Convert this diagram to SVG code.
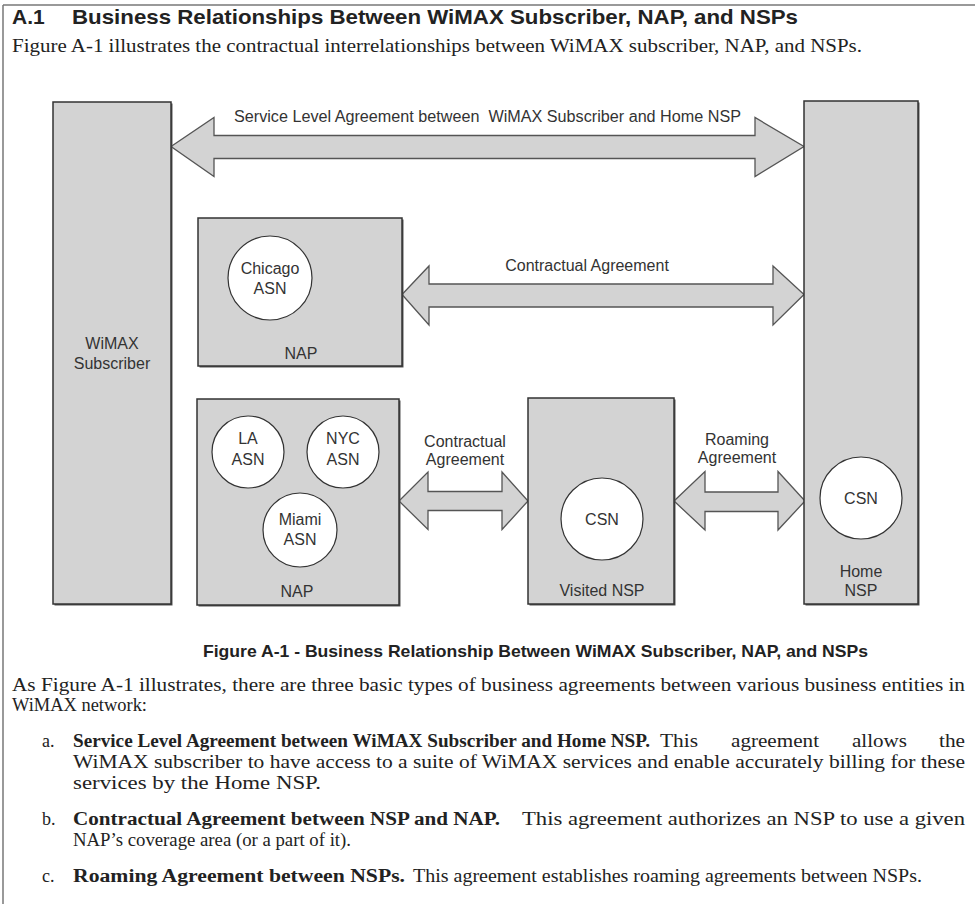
<svg xmlns="http://www.w3.org/2000/svg" width="975" height="904" viewBox="0 0 975 904">
<style>
.box{fill:#d3d3d3;stroke:#333;stroke-width:1.5}
.shadow{fill:#555}
.circ{fill:#fff;stroke:#333;stroke-width:1.2}
.arr{fill:#d3d3d3;stroke:#555;stroke-width:1.3;stroke-linejoin:miter}
.lbl{font-family:"Liberation Sans",Arial,sans-serif;font-size:16px;fill:#333;text-anchor:middle}
.lbls{font-family:"Liberation Sans",Arial,sans-serif;font-size:16px;fill:#333}
.h{font-family:"Liberation Sans",Arial,sans-serif;font-weight:bold;fill:#222}
.body{font-family:"Liberation Serif","Times New Roman",serif;font-size:18px;fill:#222}
.bb{font-family:"Liberation Serif","Times New Roman",serif;font-size:18px;font-weight:bold;fill:#222}
</style>
<rect width="975" height="904" fill="#fff"/>
<g id="page-frame">
<line x1="3" y1="5" x2="975" y2="5" stroke="#777" stroke-width="1.5"/>
<line x1="3" y1="5" x2="3" y2="904" stroke="#777" stroke-width="1.5"/>
</g>
<g id="heading">
<text class="h" x="12" y="24" font-size="21">A.1</text>
<text class="h" x="72" y="24" font-size="21" textLength="726" lengthAdjust="spacingAndGlyphs">Business Relationships Between WiMAX Subscriber, NAP, and NSPs</text>
<text class="body" x="12" y="52" textLength="850" lengthAdjust="spacingAndGlyphs">Figure A-1 illustrates the contractual interrelationships between WiMAX subscriber, NAP, and NSPs.</text>
</g>
<g id="connectors">
<path class="arr" d="M171,146.5 L214,117.5 L214,135.5 L755,135.5 L755,117.5 L804,146.5 L755,176.5 L755,158.5 L214,158.5 L214,176.5 Z"/>
<path class="arr" d="M402,294.5 L429,266 L429,284 L773,284 L773,266 L804,294.5 L773,325 L773,307 L429,307 L429,325 Z"/>
<path class="arr" d="M399,501 L428,472 L428,491.5 L502,491.5 L502,472 L528,501 L502,529.5 L502,510.5 L428,510.5 L428,529.5 Z"/>
<path class="arr" d="M674,501 L705,471.5 L705,492 L778,492 L778,471.5 L805,501 L778,530 L778,511.5 L705,511.5 L705,530 Z"/>
<text class="lbls" x="234" y="122" xml:space="preserve" textLength="507" lengthAdjust="spacingAndGlyphs">Service Level Agreement between  WiMAX Subscriber and Home NSP</text>
<text class="lbl" x="587" y="271">Contractual Agreement</text>
<text class="lbl" x="465" y="447">Contractual</text>
<text class="lbl" x="465" y="465">Agreement</text>
<text class="lbl" x="737" y="445">Roaming</text>
<text class="lbl" x="737" y="463">Agreement</text>
</g>
<g id="wimax-subscriber">
<rect class="shadow" x="54.5" y="103.5" width="118" height="502"/>
<rect class="box" x="53" y="102" width="118" height="502"/>
<text class="lbl" x="112" y="349">WiMAX</text>
<text class="lbl" x="112" y="369">Subscriber</text>
</g>
<g id="home-nsp">
<rect class="shadow" x="805.5" y="102.5" width="114" height="503"/>
<rect class="box" x="804" y="101" width="114" height="503"/>
<text class="lbl" x="861" y="577">Home</text>
<text class="lbl" x="861" y="596">NSP</text>
</g>
<g id="home-csn">
<circle class="circ" cx="861" cy="498" r="41"/>
<text class="lbl" x="861" y="504">CSN</text>
</g>
<g id="nap-chicago">
<rect class="shadow" x="199.5" y="219.5" width="204" height="148"/>
<rect class="box" x="198" y="218" width="204" height="148"/>
<text class="lbl" x="301" y="359">NAP</text>
</g>
<g id="chicago-asn">
<circle class="circ" cx="270" cy="278" r="42"/>
<text class="lbl" x="270" y="274">Chicago</text>
<text class="lbl" x="270" y="294">ASN</text>
</g>
<g id="nap-multi">
<rect class="shadow" x="198.5" y="400.5" width="202" height="206"/>
<rect class="box" x="197" y="399" width="202" height="206"/>
<text class="lbl" x="297" y="597">NAP</text>
</g>
<g id="la-asn">
<circle class="circ" cx="248" cy="452" r="36"/>
<text class="lbl" x="248" y="444">LA</text>
<text class="lbl" x="248" y="465">ASN</text>
</g>
<g id="nyc-asn">
<circle class="circ" cx="343" cy="452" r="36"/>
<text class="lbl" x="343" y="444">NYC</text>
<text class="lbl" x="343" y="465">ASN</text>
</g>
<g id="miami-asn">
<circle class="circ" cx="300" cy="530" r="37"/>
<text class="lbl" x="300" y="525">Miami</text>
<text class="lbl" x="300" y="545">ASN</text>
</g>
<g id="visited-nsp">
<rect class="shadow" x="529.5" y="399.5" width="146" height="206"/>
<rect class="box" x="528" y="398" width="146" height="206"/>
<text class="lbl" x="602" y="596">Visited NSP</text>
</g>
<g id="visited-csn">
<circle class="circ" cx="602" cy="519" r="41"/>
<text class="lbl" x="602" y="525">CSN</text>
</g>
<g id="text-below">
<text class="h" x="203" y="657" font-size="17" textLength="665" lengthAdjust="spacingAndGlyphs">Figure A-1 - Business Relationship Between WiMAX Subscriber, NAP, and NSPs</text>
<text class="body" x="12" y="691" textLength="953" lengthAdjust="spacingAndGlyphs">As Figure A-1 illustrates, there are three basic types of business agreements between various business entities in</text>
<text class="body" x="12" y="711" textLength="135" lengthAdjust="spacingAndGlyphs">WiMAX network:</text>
<text class="body" x="42" y="747">a.</text>
<text class="bb" x="73" y="747" textLength="577" lengthAdjust="spacingAndGlyphs">Service Level Agreement between WiMAX Subscriber and Home NSP.</text>
<text class="body" x="660" y="747" textLength="38" lengthAdjust="spacingAndGlyphs">This</text>
<text class="body" x="731" y="747" textLength="88" lengthAdjust="spacingAndGlyphs">agreement</text>
<text class="body" x="852" y="747" textLength="55" lengthAdjust="spacingAndGlyphs">allows</text>
<text class="body" x="939" y="747" textLength="26" lengthAdjust="spacingAndGlyphs">the</text>
<text class="body" x="73" y="768" textLength="892" lengthAdjust="spacingAndGlyphs">WiMAX subscriber to have access to a suite of WiMAX services and enable accurately billing for these</text>
<text class="body" x="73" y="789" textLength="248" lengthAdjust="spacingAndGlyphs">services by the Home NSP.</text>
<text class="body" x="42" y="825">b.</text>
<text class="bb" x="73" y="825" textLength="427" lengthAdjust="spacingAndGlyphs">Contractual Agreement between NSP and NAP.</text>
<text class="body" x="522" y="825" textLength="443" lengthAdjust="spacingAndGlyphs">This agreement authorizes an NSP to use a given</text>
<text class="body" x="73" y="846" textLength="278" lengthAdjust="spacingAndGlyphs">NAP’s coverage area (or a part of it).</text>
<text class="body" x="42" y="882">c.</text>
<text class="bb" x="73" y="882" textLength="332" lengthAdjust="spacingAndGlyphs">Roaming Agreement between NSPs.</text>
<text class="body" x="413" y="882" textLength="509" lengthAdjust="spacingAndGlyphs">This agreement establishes roaming agreements between NSPs.</text>
</g>
</svg>
